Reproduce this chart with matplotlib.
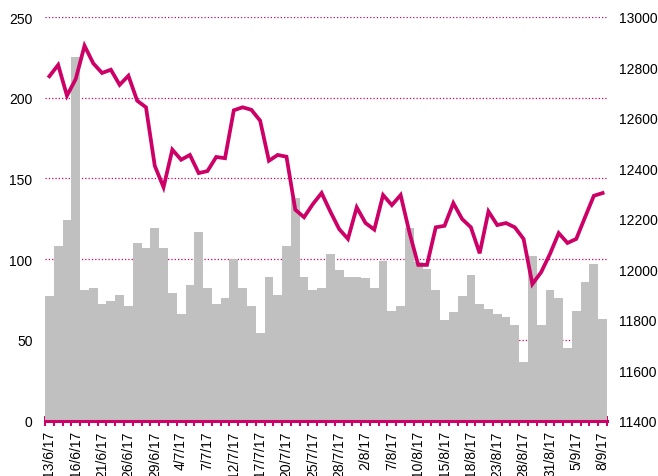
import numpy as np
import pandas as pd
import matplotlib
matplotlib.use("Agg")
import matplotlib.pyplot as plt

plt.rcParams['font.family'] = ['Liberation Sans', 'DejaVu Sans']

# trading days 13/6/17 - 8/9/17
days = pd.bdate_range("2017-06-13", "2017-09-08")
day_labels = [f"{d.day}/{d.month}/{d.year % 100}" for d in days]

# daily volume (left axis)
volume = [77, 108, 124, 225, 81, 82, 72, 74, 78, 71,
          110, 107, 119, 107, 79, 66, 84, 117, 82, 72,
          76, 100, 82, 71, 54, 89, 78, 108, 138, 89,
          81, 82, 103, 93, 89, 89, 88, 82, 99, 68,
          71, 119, 98, 94, 81, 62, 67, 77, 90, 72,
          69, 66, 64, 59, 36, 102, 59, 81, 76, 45,
          68, 86, 97, 63]

# index level (right axis)
index_level = [12765, 12810, 12688, 12754, 12886, 12816, 12778, 12791, 12731, 12767,
               12668, 12642, 12410, 12325, 12474, 12434, 12453, 12381, 12389, 12445,
               12440, 12630, 12642, 12632, 12589, 12430, 12453, 12446, 12236, 12206,
               12258, 12302, 12228, 12159, 12120, 12245, 12183, 12157, 12294, 12254,
               12294, 12146, 12017, 12017, 12166, 12172, 12262, 12199, 12166, 12063,
               12229, 12175, 12183, 12166, 12120, 11941, 11988, 12060, 12143, 12104,
               12120, 12206, 12291, 12302]

magenta = '#CC0066'
n = len(volume)
x = np.arange(n)

fig = plt.figure(figsize=(6.58, 4.77), dpi=100)
ax = fig.add_axes([45 / 658, 55.5 / 477, 562 / 658, 403.5 / 477])
ax2 = ax.twinx()

ax.bar(x, volume, width=1.0, color='#C0C0C0', zorder=2)
ax.set_axisbelow(True)
ax.set_ylim(0, 250)
ax.set_yticks(np.arange(0, 251, 50))
ax.yaxis.grid(True, color=magenta, linestyle=':', linewidth=0.9)
ax.set_xlim(-0.5, n - 0.5)

# ticks between bars, labels on every third bar
ax.set_xticks(np.arange(n + 1) - 0.5)
ax.set_xticklabels([])
ax.set_xticks(x[::3], labels=day_labels[::3], minor=True, rotation=90)
ax.tick_params(axis='x', which='major', direction='inout', length=7,
               width=1.4, color=magenta)
ax.tick_params(axis='x', which='minor', length=0, pad=7, labelsize=10)
ax.tick_params(axis='y', length=0, pad=9, labelsize=10)

ax2.plot(x, index_level, color=magenta, linewidth=2.7, solid_joinstyle='miter')
ax2.set_ylim(11400, 13000)
ax2.set_yticks(np.arange(11400, 13001, 200))
ax2.tick_params(axis='y', length=0, pad=9, labelsize=10)

for a in (ax, ax2):
    for s in ('top', 'left', 'right'):
        a.spines[s].set_visible(False)
ax2.spines['bottom'].set_visible(False)
ax.spines['bottom'].set_color(magenta)
ax.spines['bottom'].set_linewidth(2.2)
ax.spines['bottom'].set_zorder(5)

fig.savefig("out.png", dpi=100)
